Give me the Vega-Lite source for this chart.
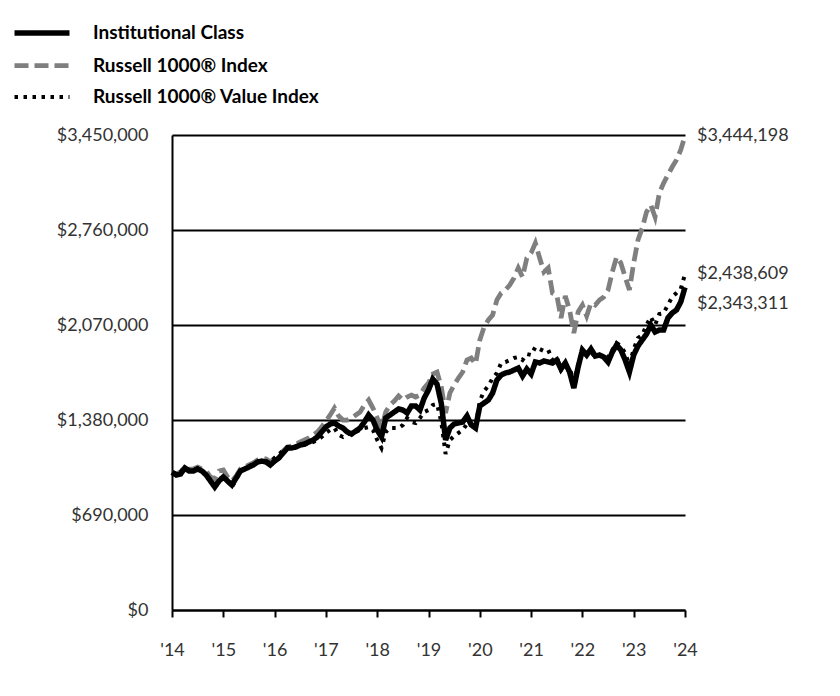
{
  "$schema": "https://vega.github.io/schema/vega-lite/v6.json",
  "width": 513,
  "height": 475,
  "autosize": "none",
  "padding": {"left": 172, "top": 135, "right": 155, "bottom": 86},
  "background": "white",
  "config": {"view": {"stroke": null}, "font": "Lato",
    "legend": {"orient": "none", "legendX": -143, "legendY": -115, "title": null, "padding": 0,
      "symbolType": "M-2.75,0H2.75", "symbolSize": 400, "labelFont": "Lato", "labelFontSize": 19,
      "labelFontWeight": "bold", "labelColor": "#000000", "labelOffset": 38, "rowPadding": 9, "labelLimit": 400}},
  "data": {"values": [
    {"m":0,"inst":1000000,"r1000":1000000,"r1000v":1000000},
    {"m":1,"inst":980500,"r1000":987800,"r1000v":987800},
    {"m":2,"inst":987800,"r1000":1002300,"r1000v":1002300},
    {"m":3,"inst":1031300,"r1000":1038600,"r1000v":1038600},
    {"m":4,"inst":1009600,"r1000":1024100,"r1000v":1016800},
    {"m":5,"inst":1009600,"r1000":1024100,"r1000v":1016800},
    {"m":6,"inst":1024100,"r1000":1038600,"r1000v":1031300},
    {"m":7,"inst":1009600,"r1000":1024100,"r1000v":1009600},
    {"m":8,"inst":980500,"r1000":1009600,"r1000v":987800},
    {"m":9,"inst":936900,"r1000":966000,"r1000v":944200},
    {"m":10,"inst":893300,"r1000":951500,"r1000v":907900},
    {"m":11,"inst":936900,"r1000":1009600,"r1000v":951500},
    {"m":12,"inst":966000,"r1000":1016800,"r1000v":966000},
    {"m":13,"inst":936900,"r1000":966000,"r1000v":936900},
    {"m":14,"inst":907900,"r1000":936900,"r1000v":893300},
    {"m":15,"inst":958700,"r1000":973200,"r1000v":944200},
    {"m":16,"inst":1009600,"r1000":1024100,"r1000v":1009600},
    {"m":17,"inst":1024100,"r1000":1038600,"r1000v":1024100},
    {"m":18,"inst":1038600,"r1000":1053100,"r1000v":1045900},
    {"m":19,"inst":1053100,"r1000":1067700,"r1000v":1060400},
    {"m":20,"inst":1074900,"r1000":1089500,"r1000v":1074900},
    {"m":21,"inst":1082200,"r1000":1104000,"r1000v":1082200},
    {"m":22,"inst":1074900,"r1000":1096700,"r1000v":1082200},
    {"m":23,"inst":1053100,"r1000":1074900,"r1000v":1067700},
    {"m":24,"inst":1082200,"r1000":1104000,"r1000v":1104000},
    {"m":25,"inst":1104000,"r1000":1125800,"r1000v":1125800},
    {"m":26,"inst":1140300,"r1000":1154800,"r1000v":1162100},
    {"m":27,"inst":1176600,"r1000":1183900,"r1000v":1183900},
    {"m":28,"inst":1176600,"r1000":1191100,"r1000v":1183900},
    {"m":29,"inst":1183900,"r1000":1205700,"r1000v":1191100},
    {"m":30,"inst":1198400,"r1000":1220200,"r1000v":1198400},
    {"m":31,"inst":1205700,"r1000":1234700,"r1000v":1198400},
    {"m":32,"inst":1220200,"r1000":1249200,"r1000v":1212900},
    {"m":33,"inst":1234700,"r1000":1271000,"r1000v":1220200},
    {"m":34,"inst":1256500,"r1000":1292800,"r1000v":1234700},
    {"m":35,"inst":1292800,"r1000":1329100,"r1000v":1256500},
    {"m":36,"inst":1329100,"r1000":1372700,"r1000v":1285600},
    {"m":37,"inst":1350900,"r1000":1416300,"r1000v":1307300},
    {"m":38,"inst":1358200,"r1000":1467100,"r1000v":1321900},
    {"m":39,"inst":1336400,"r1000":1409000,"r1000v":1271000},
    {"m":40,"inst":1321900,"r1000":1380000,"r1000v":1256500},
    {"m":41,"inst":1292800,"r1000":1380000,"r1000v":1278300},
    {"m":42,"inst":1278300,"r1000":1394500,"r1000v":1285600},
    {"m":43,"inst":1300100,"r1000":1416300,"r1000v":1292800},
    {"m":44,"inst":1321900,"r1000":1438100,"r1000v":1307300},
    {"m":45,"inst":1365400,"r1000":1488900,"r1000v":1321900},
    {"m":46,"inst":1416300,"r1000":1525200,"r1000v":1329100},
    {"m":47,"inst":1380000,"r1000":1467100,"r1000v":1307300},
    {"m":48,"inst":1307300,"r1000":1394500,"r1000v":1234700},
    {"m":49,"inst":1256500,"r1000":1321900,"r1000v":1176600},
    {"m":50,"inst":1394500,"r1000":1438100,"r1000v":1292800},
    {"m":51,"inst":1416300,"r1000":1488900,"r1000v":1321900},
    {"m":52,"inst":1438100,"r1000":1518000,"r1000v":1321900},
    {"m":53,"inst":1459900,"r1000":1554300,"r1000v":1321900},
    {"m":54,"inst":1452600,"r1000":1525200,"r1000v":1343700},
    {"m":55,"inst":1430800,"r1000":1547000,"r1000v":1394500},
    {"m":56,"inst":1481700,"r1000":1561500,"r1000v":1365400},
    {"m":57,"inst":1481700,"r1000":1547000,"r1000v":1358200},
    {"m":58,"inst":1452600,"r1000":1561500,"r1000v":1394500},
    {"m":59,"inst":1539800,"r1000":1612400,"r1000v":1438100},
    {"m":60,"inst":1597900,"r1000":1648700,"r1000v":1452600},
    {"m":61,"inst":1677800,"r1000":1714100,"r1000v":1488900},
    {"m":62,"inst":1640000,"r1000":1728600,"r1000v":1496200},
    {"m":63,"inst":1500000,"r1000":1620000,"r1000v":1365400},
    {"m":64,"inst":1234700,"r1000":1430800,"r1000v":1133000},
    {"m":65,"inst":1321900,"r1000":1576100,"r1000v":1234700},
    {"m":66,"inst":1350900,"r1000":1634200,"r1000v":1263800},
    {"m":67,"inst":1358200,"r1000":1685000,"r1000v":1285600},
    {"m":68,"inst":1365400,"r1000":1728600,"r1000v":1307300},
    {"m":69,"inst":1409000,"r1000":1815800,"r1000v":1350900},
    {"m":70,"inst":1343700,"r1000":1830300,"r1000v":1343700},
    {"m":71,"inst":1321900,"r1000":1786700,"r1000v":1321900},
    {"m":72,"inst":1481700,"r1000":1961000,"r1000v":1518000},
    {"m":73,"inst":1503400,"r1000":2055400,"r1000v":1590600},
    {"m":74,"inst":1525200,"r1000":2106200,"r1000v":1626900},
    {"m":75,"inst":1576100,"r1000":2142600,"r1000v":1685000},
    {"m":76,"inst":1670500,"r1000":2251500,"r1000v":1721300},
    {"m":77,"inst":1706800,"r1000":2302400,"r1000v":1794000},
    {"m":78,"inst":1721300,"r1000":2324200,"r1000v":1801200},
    {"m":79,"inst":1728600,"r1000":2360500,"r1000v":1815800},
    {"m":80,"inst":1743100,"r1000":2411300,"r1000v":1830300},
    {"m":81,"inst":1757600,"r1000":2484000,"r1000v":1837500},
    {"m":82,"inst":1699500,"r1000":2418600,"r1000v":1815800},
    {"m":83,"inst":1750400,"r1000":2556600,"r1000v":1859300},
    {"m":84,"inst":1714100,"r1000":2592900,"r1000v":1852100},
    {"m":85,"inst":1801200,"r1000":2665500,"r1000v":1910200},
    {"m":86,"inst":1794000,"r1000":2556600,"r1000v":1895600},
    {"m":87,"inst":1808500,"r1000":2454900,"r1000v":1881100},
    {"m":88,"inst":1801200,"r1000":2484000,"r1000v":1888400},
    {"m":89,"inst":1794000,"r1000":2302400,"r1000v":1815800},
    {"m":90,"inst":1815800,"r1000":2287900,"r1000v":1837500},
    {"m":91,"inst":1750400,"r1000":2120800,"r1000v":1743100},
    {"m":92,"inst":1794000,"r1000":2280600,"r1000v":1779400},
    {"m":93,"inst":1728600,"r1000":2178900,"r1000v":1757600},
    {"m":94,"inst":1612400,"r1000":2011900,"r1000v":1656000},
    {"m":95,"inst":1764900,"r1000":2164400,"r1000v":1779400},
    {"m":96,"inst":1888400,"r1000":2215200,"r1000v":1873900},
    {"m":97,"inst":1852100,"r1000":2135300,"r1000v":1852100},
    {"m":98,"inst":1895600,"r1000":2229700,"r1000v":1873900},
    {"m":99,"inst":1844800,"r1000":2215200,"r1000v":1837500},
    {"m":100,"inst":1852100,"r1000":2251500,"r1000v":1852100},
    {"m":101,"inst":1837500,"r1000":2273300,"r1000v":1830300},
    {"m":102,"inst":1801200,"r1000":2324200,"r1000v":1837500},
    {"m":103,"inst":1873900,"r1000":2454900,"r1000v":1888400},
    {"m":104,"inst":1924700,"r1000":2563800,"r1000v":1939200},
    {"m":105,"inst":1888400,"r1000":2520200,"r1000v":1917400},
    {"m":106,"inst":1815800,"r1000":2418600,"r1000v":1866600},
    {"m":107,"inst":1728600,"r1000":2324200,"r1000v":1779400},
    {"m":108,"inst":1852100,"r1000":2520200,"r1000v":1895600},
    {"m":109,"inst":1917400,"r1000":2687300,"r1000v":1975500},
    {"m":110,"inst":1961000,"r1000":2774500,"r1000v":1997300},
    {"m":111,"inst":2004600,"r1000":2890700,"r1000v":2070000},
    {"m":112,"inst":2070000,"r1000":2941500,"r1000v":2128100},
    {"m":113,"inst":2019100,"r1000":2854400,"r1000v":2070000},
    {"m":114,"inst":2033600,"r1000":3028700,"r1000v":2149800},
    {"m":115,"inst":2033600,"r1000":3101300,"r1000v":2157100},
    {"m":116,"inst":2120800,"r1000":3159400,"r1000v":2215200},
    {"m":117,"inst":2157100,"r1000":3217500,"r1000v":2273300},
    {"m":118,"inst":2178900,"r1000":3268400,"r1000v":2302400},
    {"m":119,"inst":2237000,"r1000":3341000,"r1000v":2331400},
    {"m":120,"inst":2343311,"r1000":3444198,"r1000v":2438609}
  ]},
  "transform": [{"fold": ["r1000", "r1000v", "inst"], "as": ["series", "value"]}],
  "encoding": {
    "x": {"field": "m", "type": "quantitative",
      "scale": {"domain": [0, 120], "nice": false, "zero": false},
      "axis": {"values": [0,12,24,36,48,60,72,84,96,108,120], "labelExpr": "\"'\" + (14 + datum.value / 12)",
        "title": null, "grid": false, "domain": true, "domainColor": "#000000", "domainWidth": 2,
        "ticks": true, "tickColor": "#000000", "tickWidth": 2, "tickSize": 7,
        "labelFont": "Lato", "labelFontSize": 18, "labelColor": "#333333", "labelPadding": 24, "labelFlush": false}},
    "y": {"field": "value", "type": "quantitative",
      "scale": {"domain": [0, 3450000], "nice": false},
      "axis": {"values": [0,690000,1380000,2070000,2760000,3450000], "format": "$,d",
        "title": null, "grid": true, "gridColor": "#000000", "gridWidth": 2, "gridOpacity": 1,
        "domain": true, "domainColor": "#000000", "domainWidth": 2, "ticks": false,
        "labelFont": "Lato", "labelFontSize": 18, "labelColor": "#333333", "labelPadding": 24}}
  },
  "layer": [
    {
      "mark": {"type": "line", "strokeCap": "butt", "strokeJoin": "miter"},
      "encoding": {
        "color": {"field": "series", "type": "nominal",
          "scale": {"domain": ["inst", "r1000", "r1000v"], "range": ["#000000", "#7f7f7f", "#000000"]},
          "legend": {"labelExpr": "datum.label == 'inst' ? 'Institutional Class' : datum.label == 'r1000' ? 'Russell 1000® Index' : 'Russell 1000® Value Index'"}},
        "strokeDash": {"field": "series", "type": "nominal",
          "scale": {"domain": ["inst", "r1000", "r1000v"], "range": [[1, 0], [14, 6], [3.5, 5.5]]},
          "legend": {"labelExpr": "datum.label == 'inst' ? 'Institutional Class' : datum.label == 'r1000' ? 'Russell 1000® Index' : 'Russell 1000® Value Index'"}},
        "strokeWidth": {"field": "series", "type": "nominal",
          "scale": {"domain": ["inst", "r1000", "r1000v"], "range": [5.5, 4, 3.5]},
          "legend": {"labelExpr": "datum.label == 'inst' ? 'Institutional Class' : datum.label == 'r1000' ? 'Russell 1000® Index' : 'Russell 1000® Value Index'"}}
      }
    },
    {
      "transform": [{"filter": "datum.m == 120 && datum.series != 'inst'"}],
      "mark": {"type": "text", "align": "left", "baseline": "middle", "dx": 12, "font": "Lato", "fontSize": 18, "color": "#333333"},
      "encoding": {"text": {"field": "value", "type": "quantitative", "format": "$,d"}}
    },
    {
      "transform": [{"filter": "datum.m == 120 && datum.series == 'inst'"}],
      "mark": {"type": "text", "align": "left", "baseline": "middle", "dx": 12, "dy": 17, "font": "Lato", "fontSize": 18, "color": "#333333"},
      "encoding": {"text": {"field": "value", "type": "quantitative", "format": "$,d"}}
    }
  ]
}
